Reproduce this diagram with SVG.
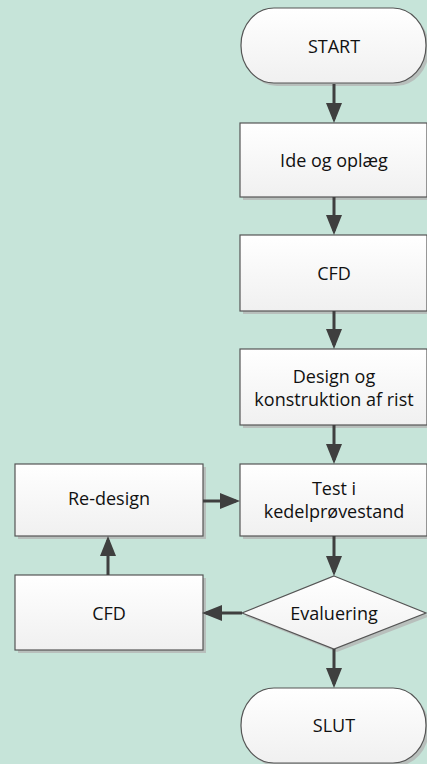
<svg xmlns="http://www.w3.org/2000/svg" width="427" height="764" viewBox="0 0 427 764">
<defs>
<linearGradient id="g" x1="0" y1="0" x2="0" y2="1">
<stop offset="0" stop-color="#ffffff"/>
<stop offset="1" stop-color="#f0f0f0"/>
</linearGradient>
<marker id="ah" viewBox="0 0 20 16" refX="16" refY="8" markerWidth="20" markerHeight="16" markerUnits="userSpaceOnUse" orient="auto">
<path d="M0,0 L20,8 L0,16 z" fill="#3f3f3f"/>
</marker>
</defs>
<style>
.sh{fill:#b8bfbc;}
.nd{fill:url(#g);stroke:#555555;stroke-width:1.2;}
.t{font-family:"Open Sans","Liberation Sans",Arial,sans-serif;font-size:18px;fill:#111111;text-anchor:middle;}
.c{stroke:#3f3f3f;stroke-width:3;fill:none;marker-end:url(#ah);}
</style>
<rect width="427" height="764" fill="#c6e4d9"/>
<g id="start">
<rect class="sh" x="244" y="11" width="185" height="75" rx="33" ry="37"/>
<rect class="nd" x="241" y="8" width="185" height="75" rx="33" ry="37"/>
<text class="t" x="334" y="53">START</text>
</g>
<g id="ide">
<rect class="sh" x="243" y="126" width="187" height="74"/>
<rect class="nd" x="240" y="123" width="187" height="74"/>
<text class="t" x="334" y="167">Ide og oplæg</text>
</g>
<g id="cfd1">
<rect class="sh" x="243" y="238" width="187" height="76"/>
<rect class="nd" x="240" y="235" width="187" height="76"/>
<text class="t" x="334" y="280">CFD</text>
</g>
<g id="design">
<rect class="sh" x="243" y="352" width="187" height="76"/>
<rect class="nd" x="240" y="349" width="187" height="76"/>
<text class="t" x="334" y="383">Design og</text>
<text class="t" x="334" y="406">konstruktion af rist</text>
</g>
<g id="test">
<rect class="sh" x="243" y="467" width="187" height="72"/>
<rect class="nd" x="240" y="464" width="187" height="72"/>
<text class="t" x="334" y="495">Test i</text>
<text class="t" x="334" y="518">kedelprøvestand</text>
</g>
<g id="redesign">
<rect class="sh" x="18" y="467" width="188" height="72"/>
<rect class="nd" x="15" y="464" width="188" height="72"/>
<text class="t" x="109" y="505">Re-design</text>
</g>
<g id="cfd2">
<rect class="sh" x="18" y="578" width="188" height="75"/>
<rect class="nd" x="15" y="575" width="188" height="75"/>
<text class="t" x="109" y="620">CFD</text>
</g>
<g id="eval">
<polygon class="sh" points="337,579 430,616 337,652 245,616"/>
<polygon class="nd" points="334,576 426,613 334,649 242,613"/>
<text class="t" x="334" y="620">Evaluering</text>
</g>
<g id="slut">
<rect class="sh" x="244" y="691" width="185" height="75" rx="33" ry="37"/>
<rect class="nd" x="241" y="688" width="185" height="75" rx="33" ry="37"/>
<text class="t" x="334" y="732">SLUT</text>
</g>
<g id="connectors">
<line class="c" x1="334" y1="84" x2="334" y2="119"/>
<line class="c" x1="334" y1="197" x2="334" y2="231"/>
<line class="c" x1="334" y1="311" x2="334" y2="345"/>
<line class="c" x1="334" y1="425" x2="334" y2="460"/>
<line class="c" x1="334" y1="536" x2="334" y2="572"/>
<line class="c" x1="334" y1="649" x2="334" y2="684"/>
<line class="c" x1="242" y1="613" x2="206" y2="613"/>
<line class="c" x1="108" y1="575" x2="108" y2="540"/>
<line class="c" x1="203" y1="501" x2="236" y2="501"/>
</g>
</svg>
